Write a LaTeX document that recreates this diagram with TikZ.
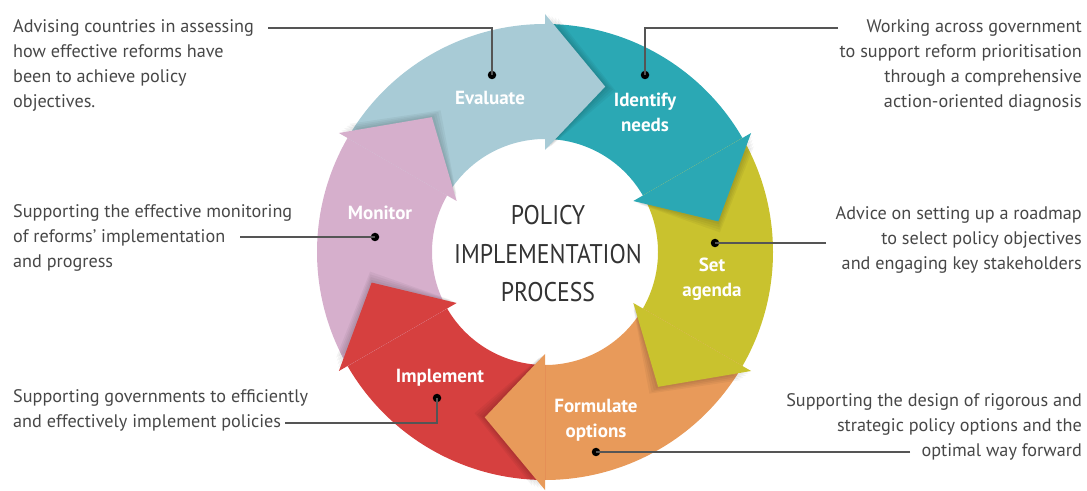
\documentclass[tikz,border=0pt]{standalone}
\usepackage{fontspec}
\setmainfont{PT Sans}
\newfontfamily\titlefont[FakeStretch=0.88]{PT Sans}
\usetikzlibrary{calc}
\definecolor{evalblue}{HTML}{A8CBD6}
\definecolor{needteal}{HTML}{2BA8B4}
\definecolor{agendayellow}{HTML}{C9C22E}
\definecolor{optorange}{HTML}{E89A5A}
\definecolor{implred}{HTML}{D6403F}
\definecolor{monpink}{HTML}{D6AFCC}
\definecolor{txtgray}{HTML}{474747}
\definecolor{linegray}{HTML}{555555}

\begin{document}
\begin{tikzpicture}[x=1pt,y=1pt,
	lefttext/.style={anchor=north west,align=left,inner sep=0pt,text=txtgray,font=\fontsize{18.2}{25}\selectfont},
	righttext/.style={anchor=north east,align=right,inner sep=0pt,text=txtgray,font=\fontsize{18.2}{25}\selectfont},
	steplabel/.style={align=center,text=white,font=\bfseries\fontsize{19}{25}\selectfont},
	leader/.style={draw=linegray,line width=1.6pt},
	blackdot/.style={circle,fill=black,inner sep=0pt,minimum size=8.5pt}]
	\useasboundingbox (0,0) rectangle (1087,490);
	%centre of the ring
	\coordinate (C) at (545,238);
	%ring bodies first, heads on top
	\foreach \s/\col in {150/evalblue,90/needteal,30/agendayellow,-30/optorange,-90/implred,-150/monpink}
		\fill[\col,shift={(C)}] (\s:228) arc[start angle=\s,end angle=\s-60,radius=228]
			-- (\s-60:113) arc[start angle=\s-60,end angle=\s,radius=113] -- cycle;
	\foreach \s/\col in {150/evalblue,90/needteal,30/agendayellow,-30/optorange,-90/implred,-150/monpink}{
		%soft shadow under the head
		\foreach \k in {1,...,4}
			\fill[black,opacity=0.045,shift={(C)}] (\s-60-0.8*\k:238-\k) -- (\s-80-0.9*\k:176) -- (\s-60-0.8*\k:102+\k) -- cycle;
		\fill[\col,shift={(C)}] (\s-60:238) -- (\s-80:176) -- (\s-60:102) -- cycle;
	}
	\node[font=\titlefont\fontsize{27}{38.5}\selectfont,text=black!80,align=center] (title) at (548,236) {POLICY\\IMPLEMENTATION\\PROCESS};
	%step names
	\node[steplabel] (evaluate) at (490,392) {Evaluate};
	\node[steplabel] (needs) at (645,378) {Identify\\needs};
	\node[steplabel] (agenda) at (712,211) {Set\\agenda};
	\node[steplabel] (options) at (596,70) {Formulate\\options};
	\node[steplabel] (implement) at (440,112) {Implement};
	\node[steplabel] (monitor) at (380,277) {Monitor};
	%descriptions
	\node[lefttext] (evaltext) at (13,471) {Advising countries in assessing\\how effective reforms have\\been to achieve policy\\objectives.};
	\node[righttext] (needtext) at (1082,471) {Working across government\\to support reform prioritisation\\through a comprehensive\\action-oriented diagnosis};
	\node[lefttext] (montext) at (13,286) {Supporting the effective monitoring\\of reforms' implementation\\and progress};
	\node[righttext] (agendatext) at (1082,284) {Advice on setting up a roadmap\\to select policy objectives\\and engaging key stakeholders};
	\node[lefttext] (impltext) at (13,101) {Supporting governments to efficiently\\and effectively implement policies};
	\node[righttext] (opttext) at (1082,97) {Supporting the design of rigorous and\\strategic policy options and the\\optimal way forward};
	%dots and leaders
	\node[blackdot] (evaldot) at (492,415) {};
	\node[blackdot] (needdot) at (645,415) {};
	\node[blackdot] (mondot) at (375,253) {};
	\node[blackdot] (agendadot) at (715,247) {};
	\node[blackdot] (impldot) at (437,92) {};
	\node[blackdot] (optdot) at (596,38) {};
	\coordinate (evalend) at (268,462);
	\coordinate (needend) at (838,462);
	\coordinate (monend) at (240,253);
	\coordinate (agendaend) at (826,247);
	\coordinate (implend) at (285,67);
	\coordinate (optend) at (910,38);
	\draw[leader] (evalend) -| (evaldot.center);
	\draw[leader] (needend) -| (needdot.center);
	\draw[leader] (monend) -- (mondot.center);
	\draw[leader] (agendaend) -- (agendadot.center);
	\draw[leader] (implend) -| (impldot.center);
	\draw[leader] (optend) -- (optdot.center);
\end{tikzpicture}
\end{document}
